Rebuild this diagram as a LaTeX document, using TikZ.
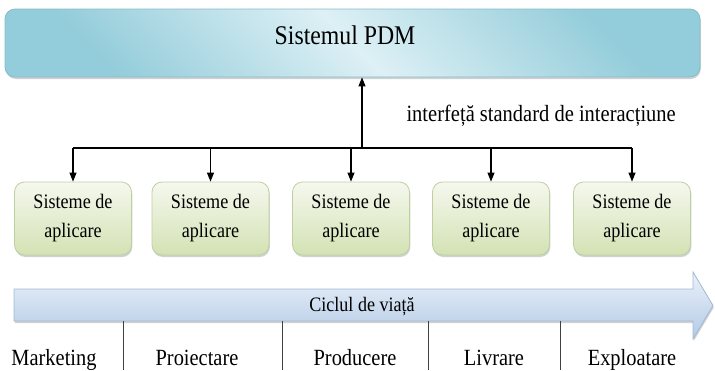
\documentclass[tikz,border=0pt]{standalone}
\usepackage{fontspec}
\setmainfont{Liberation Serif}[FakeStretch=0.88]
\usetikzlibrary{shadows,arrows.meta}

\definecolor{pdmdark}{HTML}{93CCDA}
\definecolor{pdmlight}{HTML}{DDF0F5}
\definecolor{pdmedge}{HTML}{86BCCB}
\definecolor{apptop}{HTML}{F5F8EE}
\definecolor{appbot}{HTML}{D3E2B4}
\definecolor{appedge}{HTML}{BFD0A0}
\definecolor{lctop}{HTML}{EAF1FA}
\definecolor{lcbot}{HTML}{B3CAE5}
\definecolor{lcedge}{HTML}{9FB9D6}

\begin{document}
\begin{tikzpicture}[x=1pt,y=-1pt,
  softshadow/.style={drop shadow={shadow xshift=0.8pt, shadow yshift=-2pt, opacity=0.3, fill=black!60}},
  pdmbox/.style={draw=pdmedge, line width=0.8pt, rounded corners=10pt,
    top color=pdmdark, bottom color=pdmdark, middle color=pdmlight,
    shading angle=-45, softshadow, inner sep=0pt},
  appbox/.style={draw=appedge, line width=0.8pt, rounded corners=10pt,
    top color=apptop, bottom color=appbot, softshadow,
    minimum width=117pt, minimum height=73pt, inner sep=0pt, align=center,
    font=\fontsize{20.6}{29}\selectfont},
  link/.style={line width=1.1pt, -{Triangle[length=9pt,width=7pt]}},
  phase/.style={anchor=base, font=\fontsize{23.2}{28}\selectfont},
  divider/.style={line width=0.8pt, draw=black!75}
]
\useasboundingbox (0,0) rectangle (715,370);

% PDM system bar
\node[pdmbox, minimum width=695pt, minimum height=68pt] (pdm) at (352.5,43) {};
\node[anchor=base, font=\fontsize{27}{32}\selectfont] (pdmtext) at (345,44) {Sistemul PDM};

% application systems
\foreach \i/\x in {1/73,2/210.5,3/351,4/491,5/632}
  \node[appbox] (app\i) at (\x,218.5) {Sisteme de\\aplicare};

% interface bus
\coordinate (hub) at (362,148);
\draw[line width=1.1pt] (app1.north |- hub) -- (app5.north |- hub);
\draw[link] (hub) -- (hub |- pdm.south);
\foreach \i in {1,...,5}
  \draw[link] (app\i.north |- hub) -- (app\i.north);
\node[anchor=base west, font=\fontsize{23.3}{28}\selectfont] (iface) at (403,121)
  {interfeță standard de interacțiune};

% life cycle arrow
\path[draw=lcedge, line width=0.8pt, top color=lctop, bottom color=lcbot, softshadow]
  (14,289) -- (693,289) -- (693,272) -- (713,305.5) -- (693,339) -- (693,321)
  -- (14,321) -- cycle;
\node[anchor=base, font=\fontsize{20.5}{24}\selectfont] (lc) at (362,311) {Ciclul de viață};

% phase separators and labels
\foreach \x in {123,282,428,560}
  \draw[divider] (\x,321) -- (\x,370);
\node[phase] (marketing) at (54,365) {Marketing};
\node[phase] (proiectare) at (197,365) {Proiectare};
\node[phase] (producere) at (355,365) {Producere};
\node[phase] (livrare) at (494,365) {Livrare};
\node[phase] (exploatare) at (632,365) {Exploatare};
\end{tikzpicture}
\end{document}
